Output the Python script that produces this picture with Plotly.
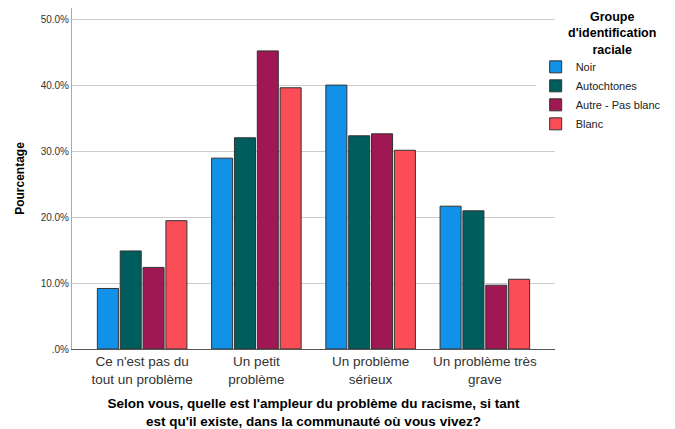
import plotly.graph_objs as go

categories = ['Ce n\'est pas du<br>tout un problème', 'Un petit<br>problème',
              'Un problème<br>sérieux', 'Un problème très<br>grave']

noir = [9.2, 29.0, 40.1, 21.7]
autochtones = [14.9, 32.1, 32.4, 21.0]
autre = [12.4, 45.3, 32.7, 9.7]
blanc = [19.5, 39.7, 30.2, 10.6]

series = [('Noir', noir, '#1192e8'),
          ('Autochtones', autochtones, '#005d5d'),
          ('Autre - Pas blanc', autre, '#9f1853'),
          ('Blanc', blanc, '#fa4d56')]

tick_vals = [0, 10, 20, 30, 40, 50]
tick_text = ['.0%', '10.0%', '20.0%', '30.0%', '40.0%', '50.0%']

fig = go.Figure()

for name, vals, color in series:
    fig.add_trace(go.Bar(
        name=name,
        x=categories,
        y=vals,
        marker=dict(color=color, line=dict(color='#333333', width=1)),
        hovertemplate='%{x}<br>%{y:.1f}%'
    ))

# page body has an 8px margin, so the figure is sized to fit the window
fig.add_annotation(
    text='<b>Groupe<br>d\'identification<br>raciale</b>',
    xref='paper', yref='paper', x=1.118, y=1.0, xanchor='center', yanchor='top',
    showarrow=False, align='center', font=dict(size=12.5, color='#000000'),
)

fig.update_layout(
    width=667, height=421,
    barmode='group',
    bargap=0.2,
    bargroupgap=0.08,
    plot_bgcolor='white',
    paper_bgcolor='white',
    font=dict(family='Liberation Sans, Arial, sans-serif', color='#222222', size=12),
    margin=dict(l=64, r=120, t=0, b=80, autoexpand=False),
    legend=dict(
        x=0.96, xanchor='left', y=0.87, yanchor='top',
        font=dict(size=11, color='#222222'),
        itemwidth=30,
        tracegroupgap=0,
    ),
    xaxis=dict(
        range=[-0.614, 3.614],
        automargin=False,
        showline=True, linecolor='#555555', linewidth=1,
        ticks='', tickfont=dict(size=13.5, color='#333333'),
        title=dict(text='<b>Selon vous, quelle est l\'ampleur du problème du racisme, si tant<br>est qu\'il existe, dans la communauté où vous vivez?</b>',
                   font=dict(size=13.5, color='#000000'), standoff=13),
    ),
    yaxis=dict(
        range=[0, 51.82],
        automargin=False,
        tickvals=tick_vals, ticktext=tick_text,
        tickfont=dict(size=10, color='#333333'),
        showgrid=True, gridcolor='#cccccc', gridwidth=1,
        showline=True, linecolor='#aaaaaa', linewidth=1,
        zeroline=False, ticks='',
        title=dict(text='<b>Pourcentage</b>', font=dict(size=12, color='#000000'), standoff=13),
    ),
)

fig.write_html('out.html')
